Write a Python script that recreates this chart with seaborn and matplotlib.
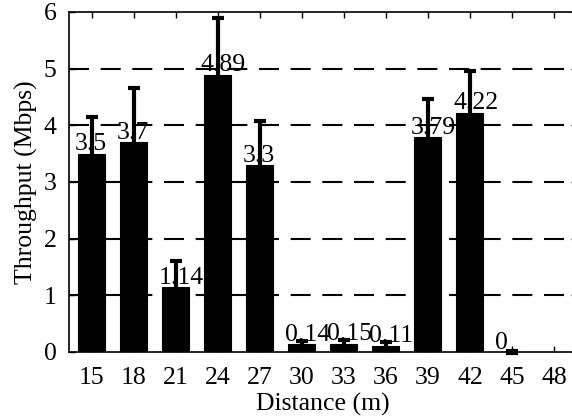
import matplotlib
matplotlib.use("Agg")
import matplotlib.pyplot as plt
import seaborn as sns
import numpy as np
import pandas as pd

# Measured throughput per distance
distances = ["15", "18", "21", "24", "27", "30", "33", "36", "39", "42", "45", "48"]
throughput = [3.5, 3.7, 1.14, 4.89, 3.3, 0.14, 0.15, 0.11, 3.79, 4.22, 0.0, np.nan]
throughput_err = [0.65, 0.96, 0.47, 1.0, 0.77, 0.06, 0.06, 0.07, 0.67, 0.74, 0.01, np.nan]
value_labels = ["3.5", "3.7", "1.14", "4.89", "3.3", "0.14", "0.15", "0.11", "3.79", "4.22", "0", ""]
y_ticks = [0, 1, 2, 3, 4, 5, 6]

FS = 18.5

sns.set_style("white")
plt.rcParams["font.family"] = ["Liberation Serif", "DejaVu Serif"]
plt.rcParams["font.size"] = FS

df = pd.DataFrame({"distance": distances, "throughput": throughput, "err": throughput_err})
df_valid = df.dropna(subset=["throughput"])

fig = plt.figure(figsize=(5.72, 4.20), dpi=100)
ax = fig.add_axes([69 / 572, 68 / 420, 507.7 / 572, 340 / 420])

sns.barplot(data=df_valid, x="distance", y="throughput", order=distances,
            color="black", edgecolor="black", linewidth=0.8, width=0.64,
            saturation=1, errorbar=None, ax=ax, zorder=2)

xpos = np.arange(len(distances))
vals = np.array(throughput, dtype=float)
errs = np.array(throughput_err, dtype=float)
mask = ~np.isnan(vals)
ax.errorbar(xpos[mask], vals[mask], yerr=errs[mask], fmt="none", ecolor="black",
            elinewidth=3, capsize=4, capthick=3, zorder=3, clip_on=False)

for i, (v, lab) in enumerate(zip(vals, value_labels)):
    if np.isnan(v):
        continue
    ax.annotate(lab, (i, v), xytext=(-12.2, 2.5), textcoords="offset points",
                ha="left", va="baseline", fontsize=FS, color="black", zorder=4)

ax.set_xlim(-0.54, len(distances) - 1 + 0.54)
ax.set_ylim(0, 6)
ax.set_yticks(y_ticks)

ax.set_axisbelow(True)
for yv in y_ticks[1:-1]:
    ax.axhline(yv, color="black", lw=1.5, linestyle=(0, (9.6, 5.6)), zorder=0.5)

for s in ax.spines.values():
    s.set_visible(True)
    s.set_color("black")
    s.set_linewidth(1.2)

ax.tick_params(axis="both", direction="in", length=4.5, width=1.0, color="black",
               labelsize=FS, labelcolor="black", top=True, right=True, bottom=True, left=True)
ax.tick_params(axis="x", pad=11)
ax.tick_params(axis="y", pad=9)

ax.set_xlabel("Distance (m)", fontsize=FS, color="black", labelpad=2.5)
ax.set_ylabel("Throughput (Mbps)", fontsize=FS, color="black")
ax.yaxis.set_label_coords(-0.062, 0.5)

fig.savefig("out.png", dpi=100)
